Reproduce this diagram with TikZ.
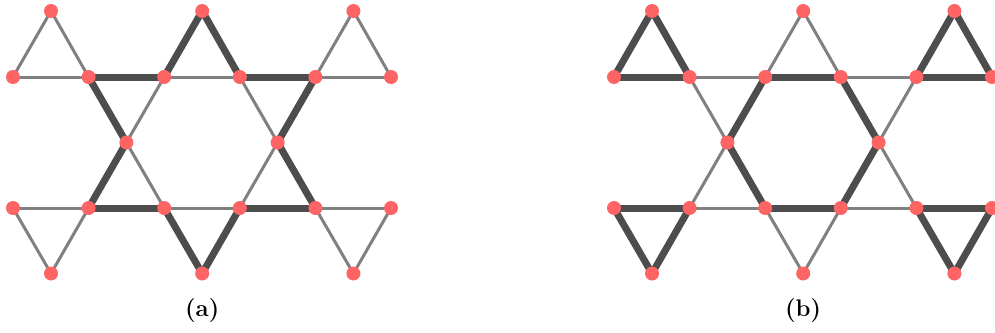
\documentclass[tikz,border=0pt]{standalone}
\usepackage{fontspec}
\setmainfont{Latin Modern Roman}
\usetikzlibrary{backgrounds}
\definecolor{sitecol}{HTML}{FF6464}
\definecolor{weakcol}{HTML}{808080}
\definecolor{strongcol}{HTML}{4D4D4D}
\begin{document}
\begin{tikzpicture}[x=1pt,y=-1pt,
  site/.style={circle,fill=sitecol,draw=none,inner sep=0pt,minimum size=14pt},
  weak/.style={draw=weakcol,line width=3pt},
  strong/.style={draw=strongcol,line width=7pt},
  lbl/.style={inner sep=0pt,font=\fontsize{24}{28}\selectfont\bfseries}]
\useasboundingbox (0,0) rectangle (995,332);
\foreach \p/\o in {a/0,b/601}{
  \foreach \i/\x in {1/51,2/202.2,3/353.4}{
    \node[site] (\p T\i) at (\x+\o,11) {};
    \node[site] (\p D\i) at (\x+\o,273.5) {};
  }
  \foreach \i/\x in {1/13,2/88.6,3/164.2,4/239.8,5/315.4,6/391}{
    \node[site] (\p A\i) at (\x+\o,77) {};
    \node[site] (\p B\i) at (\x+\o,208) {};
  }
  \foreach \i/\x in {1/126.4,2/277.6}{
    \node[site] (\p M\i) at (\x+\o,142.5) {};
  }
}
\node[lbl] (la) at (202.2,311) {(a)};
\node[lbl] (lb) at (803.2,311) {(b)};
\begin{pgfonlayer}{background}
% set one: strong in (a), weak in (b)
\foreach \u/\v in {T2/A3,T2/A4,A2/A3,A2/M1,A4/A5,A5/M2,M1/B2,B2/B3,M2/B5,B4/B5,B3/D2,B4/D2}{
  \draw[strong] (a\u.center) -- (a\v.center);
  \draw[weak] (b\u.center) -- (b\v.center);
}
% set two: weak in (a), strong in (b)
\foreach \u/\v in {T1/A1,T1/A2,A1/A2,A3/A4,A3/M1,A4/M2,T3/A5,T3/A6,A5/A6,M1/B3,M2/B4,B1/B2,B1/D1,B2/D1,B3/B4,B5/B6,B5/D3,B6/D3}{
  \draw[weak] (a\u.center) -- (a\v.center);
  \draw[strong] (b\u.center) -- (b\v.center);
}
\end{pgfonlayer}
\end{tikzpicture}
\end{document}
